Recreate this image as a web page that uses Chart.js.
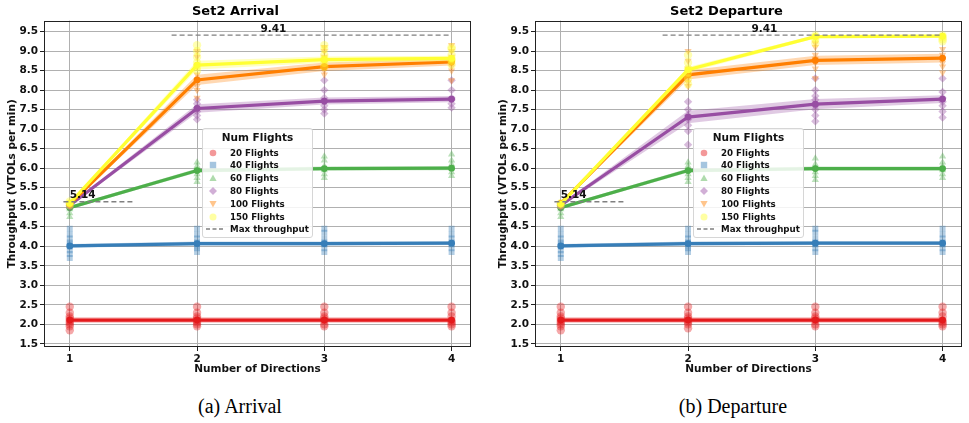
<!DOCTYPE html>
<html><head><meta charset="utf-8">
<script src="https://cdn.jsdelivr.net/npm/chart.js@4.4.1/dist/chart.umd.min.js"></script>
<style>
html,body{margin:0;padding:0;background:#fff;width:969px;height:423px;overflow:hidden;position:relative;font-family:"DejaVu Sans",sans-serif;}
.cv{position:absolute;top:0;width:515px;height:380px;}
.legend{position:absolute;top:128px;width:111px;height:110px;box-sizing:border-box;border:1px solid #d6d6d6;border-radius:3px;background:rgba(255,255,255,0.85);font-weight:bold;color:#111;}
.legend .lt{position:absolute;left:0;right:0;top:2px;text-align:center;font-size:10.5px;line-height:13px;}
.legend .row{position:absolute;left:0;height:12px;font-size:8.7px;line-height:12px;white-space:nowrap;}
.legend .row svg{position:absolute;left:2px;top:0;}
.legend .row span{position:absolute;left:27px;top:0;}
.caption{position:absolute;top:394px;font-family:"Liberation Serif",serif;font-size:20px;line-height:24px;transform:translateX(-50%);white-space:nowrap;color:#000;}
</style></head>
<body>
<div class="cv" style="left:0px"><canvas id="c1" width="515" height="380"></canvas></div>
<div class="cv" style="left:491px"><canvas id="c2" width="515" height="380"></canvas></div>
<div class="legend" id="lg1" style="left:202px"></div>
<div class="legend" id="lg2" style="left:693px"></div>
<div class="caption" style="left:240px">(a) Arrival</div>
<div class="caption" style="left:733px">(b) Departure</div>
<script>
// ---------- data ----------
const xCats = [1, 2, 3, 4];
const yTicks = [1.5, 2.0, 2.5, 3.0, 3.5, 4.0, 4.5, 5.0, 5.5, 6.0, 6.5, 7.0, 7.5, 8.0, 8.5, 9.0, 9.5];
const seriesNames = ['20 Flights', '40 Flights', '60 Flights', '80 Flights', '100 Flights', '150 Flights'];
const maxVals = [5.14, 9.41];
const maxStart = [0.95, 1.8];
const maxEnd = [1.5, 4.0];

// Arrival means
const arrMean20  = [2.11, 2.11, 2.11, 2.11];
const arrMean40  = [4.01, 4.07, 4.07, 4.08];
const arrMean60  = [4.99, 5.94, 5.99, 6.00];
const arrMean80  = [5.05, 7.53, 7.72, 7.77];
const arrMean100 = [5.08, 8.26, 8.60, 8.72];
const arrMean150 = [5.10, 8.64, 8.78, 8.81];
// Arrival confidence band half widths
const arrBand20  = [0.07, 0.07, 0.07, 0.07];
const arrBand40  = [0.05, 0.05, 0.05, 0.05];
const arrBand60  = [0.04, 0.05, 0.05, 0.05];
const arrBand80  = [0.03, 0.11, 0.09, 0.08];
const arrBand100 = [0.03, 0.13, 0.11, 0.09];
const arrBand150 = [0.03, 0.11, 0.08, 0.07];
// Arrival individual runs
const arrPts20  = [[1.85, 1.95, 2.0, 2.05, 2.1, 2.15, 2.2, 2.3, 2.45], [1.95, 2.0, 2.05, 2.1, 2.15, 2.2, 2.3, 2.45], [1.95, 2.0, 2.1, 2.15, 2.2, 2.3, 2.45], [1.95, 2.0, 2.05, 2.1, 2.2, 2.3, 2.45]];
const arrPts40  = [[3.7, 3.8, 3.9, 4.0, 4.05, 4.1, 4.2, 4.3, 4.45], [3.85, 3.95, 4.0, 4.1, 4.2, 4.3, 4.45], [3.85, 3.95, 4.05, 4.1, 4.2, 4.35, 4.45], [3.85, 3.95, 4.05, 4.1, 4.2, 4.3, 4.45]];
const arrPts60  = [[4.75, 4.85, 4.95, 5.0], [5.65, 5.75, 5.85, 5.95, 6.05, 6.15], [5.75, 5.85, 5.95, 6.05, 6.2, 6.3], [5.8, 5.9, 6.0, 6.1, 6.2, 6.35]];
const arrPts80  = [[5.0, 5.05, 5.1], [7.25, 7.35, 7.45, 7.55, 7.65, 7.75], [7.4, 7.5, 7.6, 7.7, 7.8, 8.0, 8.25], [7.55, 7.65, 7.75, 7.8, 8.0, 8.25]];
const arrPts100 = [[5.05, 5.1], [7.8, 8.0, 8.1, 8.25, 8.4, 8.6, 8.85, 9.0], [8.4, 8.5, 8.6, 8.7, 8.85, 9.0, 9.1], [8.25, 8.5, 8.6, 8.7, 8.85, 9.0, 9.15]];
const arrPts150 = [[5.05, 5.1, 5.15], [8.5, 8.6, 8.7, 8.85, 9.0, 9.15], [8.6, 8.7, 8.8, 8.9, 9.05, 9.15], [8.65, 8.75, 8.8, 8.9, 9.05, 9.1]];

// Departure means
const depMean20  = [2.11, 2.11, 2.11, 2.11];
const depMean40  = [4.01, 4.07, 4.08, 4.08];
const depMean60  = [4.99, 5.94, 5.99, 5.99];
const depMean80  = [5.05, 7.31, 7.64, 7.77];
const depMean100 = [5.10, 8.39, 8.76, 8.82];
const depMean150 = [5.08, 8.52, 9.37, 9.38];
// Departure confidence band half widths
const depBand20  = [0.07, 0.07, 0.07, 0.07];
const depBand40  = [0.05, 0.05, 0.05, 0.05];
const depBand60  = [0.04, 0.05, 0.05, 0.05];
const depBand80  = [0.03, 0.16, 0.13, 0.10];
const depBand100 = [0.03, 0.12, 0.12, 0.11];
const depBand150 = [0.03, 0.07, 0.04, 0.04];
// Departure individual runs
const depPts20  = [[1.85, 1.95, 2.0, 2.05, 2.1, 2.15, 2.2, 2.3, 2.45], [1.9, 2.0, 2.05, 2.1, 2.15, 2.2, 2.3, 2.45], [1.95, 2.0, 2.1, 2.15, 2.2, 2.3, 2.45], [1.95, 2.0, 2.05, 2.1, 2.2, 2.3, 2.45]];
const depPts40  = [[3.7, 3.8, 3.9, 4.0, 4.05, 4.1, 4.2, 4.3, 4.45], [3.85, 3.95, 4.0, 4.1, 4.2, 4.3, 4.45], [3.85, 3.95, 4.05, 4.1, 4.2, 4.35, 4.45], [3.85, 3.95, 4.05, 4.1, 4.2, 4.3, 4.45]];
const depPts60  = [[4.75, 4.85, 4.95, 5.0], [5.65, 5.75, 5.85, 5.95, 6.05, 6.15], [5.7, 5.8, 5.9, 6.0, 6.1, 6.25], [5.75, 5.85, 5.95, 6.05, 6.15, 6.3]];
const depPts80  = [[5.0, 5.05, 5.1], [6.6, 6.95, 7.1, 7.25, 7.35, 7.5, 7.7], [7.2, 7.35, 7.5, 7.6, 7.75, 7.85, 8.0, 8.3], [7.3, 7.45, 7.6, 7.7, 7.8, 7.95, 8.3]];
const depPts100 = [[5.05, 5.1], [8.1, 8.2, 8.3, 8.4, 8.55, 8.75, 9.0], [8.3, 8.55, 8.7, 8.8, 8.9, 9.1, 9.2], [8.45, 8.6, 8.7, 8.8, 8.9, 9.05]];
const depPts150 = [[5.05, 5.1], [8.15, 8.3, 8.45, 8.55, 8.7, 8.9], [9.2, 9.3, 9.35, 9.4], [9.25, 9.3, 9.35, 9.4]];

// ---------- styles ----------
const colors = ['228,26,28', '55,126,184', '77,175,74', '152,78,163', '255,127,0', '255,255,51'];
const markerStyles = ['circle', 'rect', 'triangle', 'rectRot', 'triangle', 'circle'];
const markerRot = [0, 0, 0, 0, 180, 0];
const FONT = '"DejaVu Sans", sans-serif';

function buildDatasets(means, bands, pts) {
  const ds = [];
  for (let s = 0; s < means.length; s++) {
    const c = colors[s];
    const scatter = [];
    pts[s].forEach((arr, i) => arr.forEach(v => scatter.push({x: xCats[i], y: v})));
    ds.push({type: 'line', data: scatter, showLine: false, pointStyle: markerStyles[s], rotation: markerRot[s],
      pointRadius: 4.2, pointBorderWidth: 0, pointBackgroundColor: 'rgba(' + c + ',0.38)', borderColor: 'rgba(' + c + ',0.38)', fill: false});
    ds.push({type: 'line', data: xCats.map((x, i) => ({x, y: means[s][i] + bands[s][i]})), borderWidth: 0, pointRadius: 0,
      borderColor: 'rgba(0,0,0,0)', backgroundColor: 'rgba(' + c + ',0.3)', fill: '+1', tension: 0});
    ds.push({type: 'line', data: xCats.map((x, i) => ({x, y: means[s][i] - bands[s][i]})), borderWidth: 0, pointRadius: 0,
      borderColor: 'rgba(0,0,0,0)', fill: false, tension: 0});
    ds.push({type: 'line', data: xCats.map((x, i) => ({x, y: means[s][i]})), borderWidth: 3.2, borderColor: 'rgb(' + c + ')',
      pointRadius: 3.4, pointStyle: 'circle', pointBackgroundColor: 'rgb(' + c + ')', pointBorderWidth: 0, fill: false, tension: 0});
  }
  for (let k = 0; k < maxVals.length; k++) {
    ds.push({type: 'line', data: [{x: maxStart[k], y: maxVals[k]}, {x: maxEnd[k], y: maxVals[k]}], borderColor: '#808080',
      borderWidth: 1.3, borderDash: [5, 3], pointRadius: 0, fill: false});
  }
  ds.forEach((d, i) => d.order = 1000 - i);
  return ds;
}

const labelAnchorX = [1.0, 2.6];
const labelAlign = ['left', 'center'];
const decor = {
  id: 'decor',
  afterDatasetsDraw(chart) {
    const {ctx, chartArea: a, scales: {x, y}} = chart;
    ctx.save();
    ctx.strokeStyle = '#222'; ctx.lineWidth = 1;
    ctx.strokeRect(Math.round(a.left) + 0.5, Math.round(a.top) + 0.5, Math.round(a.right - a.left) - 1, Math.round(a.bottom - a.top) - 1);
    ctx.font = 'bold 10.5px ' + FONT; ctx.fillStyle = '#111'; ctx.textBaseline = 'bottom';
    for (let k = 0; k < maxVals.length; k++) {
      ctx.textAlign = labelAlign[k];
      ctx.fillText(maxVals[k].toFixed(2), x.getPixelForValue(labelAnchorX[k]), y.getPixelForValue(maxVals[k]) - 1);
    }
    ctx.restore();
  }
};

function makeChart(id, title, means, bands, pts) {
  return new Chart(document.getElementById(id), {
    data: {datasets: buildDatasets(means, bands, pts)},
    plugins: [decor],
    options: {
      responsive: false, animation: false, events: [],
      layout: {padding: {left: 0, right: 44, top: 0, bottom: 0}},
      plugins: {
        legend: {display: false}, tooltip: {enabled: false},
        title: {display: true, text: title, color: '#000', font: {family: FONT, size: 13, weight: 'bold'}, padding: {top: 4, bottom: 1}}
      },
      scales: {
        x: {type: 'linear', min: 0.7975, max: 4.1525,
          afterFit(s) { s.height = 33; },
          afterBuildTicks(s) { s.ticks = xCats.map(v => ({value: v})); },
          grid: {color: '#b0b0b0', lineWidth: 1, tickLength: 4, tickColor: '#222'},
          border: {display: false},
          ticks: {color: '#111', font: {family: FONT, size: 10.5, weight: 'bold'}, padding: 2, maxRotation: 0, callback: v => String(v)},
          title: {display: true, text: 'Number of Directions', color: '#111', font: {family: FONT, size: 10.5, weight: 'bold'}, padding: {top: 0, bottom: 4}}
        },
        y: {type: 'linear', min: 1.42, max: 9.78,
          afterFit(s) { s.width = 44; },
          afterBuildTicks(s) { s.ticks = yTicks.map(v => ({value: v})); },
          grid: {color: '#b0b0b0', lineWidth: 1, tickLength: 4, tickColor: '#222'},
          border: {display: false},
          ticks: {color: '#111', font: {family: FONT, size: 10.5, weight: 'bold'}, padding: 2, callback: v => Number(v).toFixed(1)},
          title: {display: true, text: 'Throughput (VTOLs per min)', color: '#111', font: {family: FONT, size: 10.5, weight: 'bold'}, padding: {top: 6, bottom: 0}}
        }
      }
    }
  });
}

makeChart('c1', 'Set2 Arrival',
  [arrMean20, arrMean40, arrMean60, arrMean80, arrMean100, arrMean150],
  [arrBand20, arrBand40, arrBand60, arrBand80, arrBand100, arrBand150],
  [arrPts20, arrPts40, arrPts60, arrPts80, arrPts100, arrPts150]);
makeChart('c2', 'Set2 Departure',
  [depMean20, depMean40, depMean60, depMean80, depMean100, depMean150],
  [depBand20, depBand40, depBand60, depBand80, depBand100, depBand150],
  [depPts20, depPts40, depPts60, depPts80, depPts100, depPts150]);

// ---------- legends ----------
function markerSvg(s) {
  const f = 'rgba(' + colors[s] + ',0.45)';
  let shape;
  switch (s) {
    case 0: shape = '<circle cx="8" cy="6" r="3.3" fill="' + f + '"/>'; break;
    case 1: shape = '<rect x="4.8" y="2.8" width="6.4" height="6.4" fill="' + f + '"/>'; break;
    case 2: shape = '<polygon points="8,2.4 11.6,9 4.4,9" fill="' + f + '"/>'; break;
    case 3: shape = '<polygon points="8,2 12,6 8,10 4,6" fill="' + f + '"/>'; break;
    case 4: shape = '<polygon points="4.4,3 11.6,3 8,9.6" fill="' + f + '"/>'; break;
    default: shape = '<circle cx="8" cy="6" r="3.5" fill="' + f + '"/>';
  }
  return '<svg width="16" height="12" viewBox="0 0 16 12">' + shape + '</svg>';
}
function buildLegend(id) {
  const el = document.getElementById(id);
  let html = '<div class="lt">Num Flights</div>';
  seriesNames.forEach((n, s) => {
    html += '<div class="row" style="top:' + (17.5 + s * 12.8) + 'px;width:109px">' + markerSvg(s) + '<span>' + n + '</span></div>';
  });
  html += '<div class="row" style="top:' + (17.5 + 6 * 12.8) + 'px;width:109px"><svg width="22" height="12" style="left:2px"><line x1="1" y1="6" x2="19" y2="6" stroke="#808080" stroke-width="1.3" stroke-dasharray="4,2.5"/></svg><span>Max throughput</span></div>';
  el.innerHTML = html;
}
buildLegend('lg1');
buildLegend('lg2');
</script>
</body></html>
